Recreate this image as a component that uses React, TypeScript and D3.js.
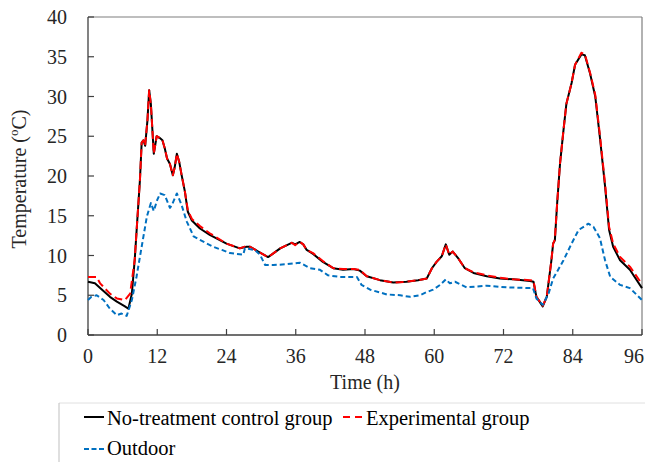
import React from "react";
import * as d3 from "d3";

// Hourly temperature readings (time in h, temperature in °C)
const controlSeries: [number, number][] = [
  [0, 6.7], [1.2, 6.5], [2.1, 5.9], [3.8, 4.8], [5.0, 4.2], [6.4, 3.6], [7.0, 3.3], [7.6, 5.2],
  [8.1, 9.5], [8.5, 14], [9.0, 19.5], [9.3, 24.2], [9.6, 24.5], [9.9, 23.8], [10.3, 27], [10.6, 30.8],
  [10.9, 29], [11.4, 22.8], [11.9, 25.0], [12.4, 24.8], [12.9, 24.5], [13.3, 23.5], [13.7, 22.2],
  [14.2, 21.5], [14.7, 20.1], [15.0, 21], [15.4, 22.8], [15.8, 21.8], [16.2, 20.2], [16.8, 18],
  [17.3, 15.5], [18.0, 14.4], [19.4, 13.4], [21.1, 12.6], [24, 11.5], [26.3, 10.9], [27.5, 11.1],
  [28.1, 11.1], [29.5, 10.5], [31.2, 9.8], [32, 10.2], [33.3, 10.9], [35.3, 11.6], [35.9, 11.4],
  [36.7, 11.7], [37.3, 11.4], [37.9, 10.7], [39, 10.2], [40.7, 9.2], [42.5, 8.4], [44.2, 8.2],
  [46, 8.3], [47.1, 8.1], [48.3, 7.4], [50.6, 6.9], [52.9, 6.6], [55.2, 6.7], [57.2, 6.9],
  [58.7, 7.1], [59.6, 8.4], [60.4, 9.2], [61.3, 9.9], [62.0, 11.4], [62.6, 10.1], [63.2, 10.5],
  [64.2, 9.6], [65.3, 8.4], [66.8, 7.8], [69.1, 7.4], [71.4, 7.1], [73.7, 7.0], [76.6, 6.8],
  [77.2, 6.7], [77.7, 4.8], [78.8, 3.6], [79.5, 4.8], [80.3, 9.4], [80.6, 11.5], [80.9, 11.9],
  [81.3, 16.6], [81.8, 21.6], [82.4, 25.8], [82.9, 29.1], [83.8, 31.7], [84.4, 34.0], [85.5, 35.3],
  [86.1, 35.2], [87.0, 32.9], [87.9, 30.0], [88.7, 24.9], [89.6, 18.7], [90.3, 13.2], [91.0, 11.1],
  [92.2, 9.4], [93.9, 8.2], [96, 5.9],
];

const experimentalSeries: [number, number][] = [
  [0, 7.3], [1.5, 7.3], [2.1, 6.5], [3.8, 5.2], [5.0, 4.6], [6.4, 4.4], [7.3, 5.2],
  [8.1, 9.5], [8.5, 14], [9.0, 19.5], [9.3, 24.2], [9.6, 24.5], [9.9, 23.8], [10.3, 27], [10.6, 30.8],
  [10.9, 29], [11.4, 22.8], [11.9, 25.0], [12.4, 24.8], [12.9, 24.5], [13.3, 23.5], [13.7, 22.2],
  [14.2, 21.5], [14.7, 20.1], [15.0, 21], [15.4, 22.8], [15.8, 21.8], [16.2, 20.2], [16.8, 18],
  [17.3, 15.7], [18.0, 14.6], [19.4, 13.7], [21.1, 12.8], [24, 11.5], [26.3, 10.9], [27.5, 11.2],
  [28.1, 11.1], [29.5, 10.5], [31.2, 9.8], [32, 10.2], [33.3, 10.9], [35.3, 11.6], [35.9, 11.3],
  [36.7, 11.7], [37.3, 11.4], [37.9, 10.7], [39, 10.3], [40.7, 9.3], [42.5, 8.4], [44.2, 8.3],
  [46, 8.3], [47.1, 8.2], [48.3, 7.4], [50.6, 6.9], [52.9, 6.6], [55.2, 6.7], [57.2, 6.9],
  [58.7, 7.1], [59.6, 8.4], [60.4, 9.2], [61.3, 9.9], [62.0, 11.4], [62.6, 10.1], [63.2, 10.5],
  [64.2, 9.6], [65.3, 8.4], [66.8, 7.9], [69.1, 7.5], [71.4, 7.2], [73.7, 7.0], [76.6, 6.9],
  [77.2, 6.8], [77.7, 4.8], [78.8, 3.7], [79.5, 4.8], [80.3, 9.4], [80.6, 11.5], [80.9, 12.0],
  [81.3, 16.6], [81.8, 21.6], [82.4, 25.8], [82.9, 29.1], [83.8, 31.7], [84.4, 34.0], [85.5, 35.5],
  [86.1, 35.3], [87.0, 33.0], [87.9, 30.2], [88.7, 25.2], [89.6, 19.0], [90.3, 13.6], [91.0, 11.5],
  [92.2, 9.8], [93.9, 8.6], [96, 6.4],
];

const outdoorSeries: [number, number][] = [
  [0, 4.4], [0.6, 4.8], [1.5, 5.0], [2.7, 4.4], [3.8, 3.3], [5.0, 2.5], [5.8, 2.7], [6.7, 2.4],
  [7.6, 4.4], [8.4, 7.3], [9.3, 11.1], [10.2, 14.9], [10.9, 16.6], [11.4, 15.6], [12.0, 17.0],
  [12.5, 17.8], [13.3, 17.6], [14.2, 16.0], [14.5, 16.3], [15.4, 17.8], [16.2, 16.4], [17.1, 14.3],
  [18.3, 12.4], [20.6, 11.5], [21.7, 11.1], [23.2, 10.7], [24.6, 10.3], [26.9, 10.1], [27.2, 10.9],
  [28.9, 10.7], [29.8, 10.1], [30.7, 8.8], [32.1, 8.8], [34.4, 8.9], [36.7, 9.1], [38.5, 8.4],
  [40.2, 8.2], [41.6, 7.5], [43.7, 7.3], [46.6, 7.3], [47.4, 6.3], [48.9, 5.7], [51.8, 5.1],
  [54.1, 5.0], [55.8, 4.8], [57.5, 5.0], [58.7, 5.4], [59.8, 5.7], [61.0, 6.3], [62.0, 7.0],
  [62.7, 6.5], [63.6, 6.7], [65.6, 6.0], [69.1, 6.2], [72.5, 6.0], [76.6, 5.9], [77.1, 5.9],
  [77.7, 4.6], [78.8, 3.8], [79.8, 5.2], [80.6, 7.1], [82.4, 9.4], [83.8, 11.5], [85.0, 13.2],
  [86.7, 14.0], [87.6, 13.6], [88.7, 12.2], [89.6, 9.4], [90.5, 7.3], [92.2, 6.3], [93.9, 5.9],
  [96, 4.4],
];

const xTicks = [0, 12, 24, 36, 48, 60, 72, 84, 96];
const yTicks = [0, 5, 10, 15, 20, 25, 30, 35, 40];

const FONT = "Liberation Serif, Times New Roman, DejaVu Serif, serif";

const W = 645;
const H = 462;
const plot = { left: 88, right: 642, top: 17, bottom: 335 };

export default function App() {
  const x = d3.scaleLinear().domain([0, 96]).range([plot.left, plot.right]);
  const y = d3.scaleLinear().domain([0, 40]).range([plot.bottom, plot.top]);
  const line = d3
    .line<[number, number]>()
    .x((d) => x(d[0]))
    .y((d) => y(d[1]));

  const txt: React.CSSProperties = { fontFamily: FONT };

  return (
    <svg
      width={W}
      height={H}
      viewBox={`0 0 ${W} ${H}`}
      style={{ position: "absolute", left: 0, top: 0, background: "#fff", fontFamily: FONT }}
    >
      {/* frame */}
      <line x1={plot.left} x2={plot.right} y1={plot.top} y2={plot.top} stroke="#7f7f7f" strokeWidth={1.2} />
      <line x1={plot.right} x2={plot.right} y1={plot.top} y2={plot.bottom} stroke="#7f7f7f" strokeWidth={1.2} />
      <line x1={plot.left} x2={plot.right} y1={plot.bottom} y2={plot.bottom} stroke="#404040" strokeWidth={1.3} />
      <line x1={plot.left} x2={plot.left} y1={plot.top} y2={plot.bottom} stroke="#404040" strokeWidth={1.3} />

      {/* y ticks */}
      {yTicks.map((t) => (
        <g key={`y${t}`}>
          <line x1={plot.left} x2={plot.left + 6} y1={y(t)} y2={y(t)} stroke="#404040" strokeWidth={1.2} />
          <text x={67} y={y(t)} dy="0.35em" textAnchor="end" fontSize={20} fill="#262626" style={txt}>
            {t}
          </text>
        </g>
      ))}

      {/* x ticks; the last label is pulled inside the page edge */}
      {xTicks.map((t, i) => (
        <g key={`x${t}`}>
          <line x1={x(t)} x2={x(t)} y1={plot.bottom} y2={plot.bottom - 6} stroke="#404040" strokeWidth={1.2} />
          <text
            x={i === xTicks.length - 1 ? W - 1 : x(t)}
            y={363}
            textAnchor={i === xTicks.length - 1 ? "end" : "middle"}
            fontSize={20}
            fill="#262626"
            style={txt}
          >
            {t}
          </text>
        </g>
      ))}

      {/* axis titles */}
      <text x={(plot.left + plot.right) / 2} y={389} textAnchor="middle" fontSize={20} fill="#262626" style={txt}>
        Time (h)
      </text>
      <text
        transform={`translate(26, ${(plot.top + plot.bottom) / 2 + 3}) rotate(-90)`}
        textAnchor="middle"
        fontSize={20}
        fill="#262626"
        style={txt}
      >
        Temperature (<tspan fontSize={13} dy={-8}>o</tspan>
        <tspan dy={8}>C)</tspan>
      </text>

      {/* series */}
      <path d={line(controlSeries) ?? ""} fill="none" stroke="#000" strokeWidth={2} strokeLinejoin="round" />
      <path
        d={line(experimentalSeries) ?? ""}
        fill="none"
        stroke="#ff0000"
        strokeWidth={2}
        strokeDasharray="8,4"
        strokeLinejoin="round"
      />
      <path
        d={line(outdoorSeries) ?? ""}
        fill="none"
        stroke="#0070c0"
        strokeWidth={2}
        strokeDasharray="5,3"
        strokeLinejoin="round"
      />

      {/* legend */}
      <line x1={59} x2={W} y1={403} y2={403} stroke="#e0e0e0" strokeWidth={1} />
      <line x1={59} x2={59} y1={403} y2={H} stroke="#bfbfbf" strokeWidth={1} />
      <line x1={84} x2={104} y1={417} y2={417} stroke="#000" strokeWidth={2} />
      <text x={107} y={425} fontSize={20.5} fill="#000" style={txt}>
        No-treatment control group
      </text>
      <line x1={343} x2={363} y1={417} y2={417} stroke="#ff0000" strokeWidth={2} strokeDasharray="7,5" />
      <text x={366} y={425} fontSize={20.5} fill="#000" style={txt}>
        Experimental group
      </text>
      <line x1={84} x2={104} y1={449} y2={449} stroke="#0070c0" strokeWidth={2} strokeDasharray="5,2.5" />
      <text x={107} y={455} fontSize={20.5} fill="#000" style={txt}>
        Outdoor
      </text>
    </svg>
  );
}
